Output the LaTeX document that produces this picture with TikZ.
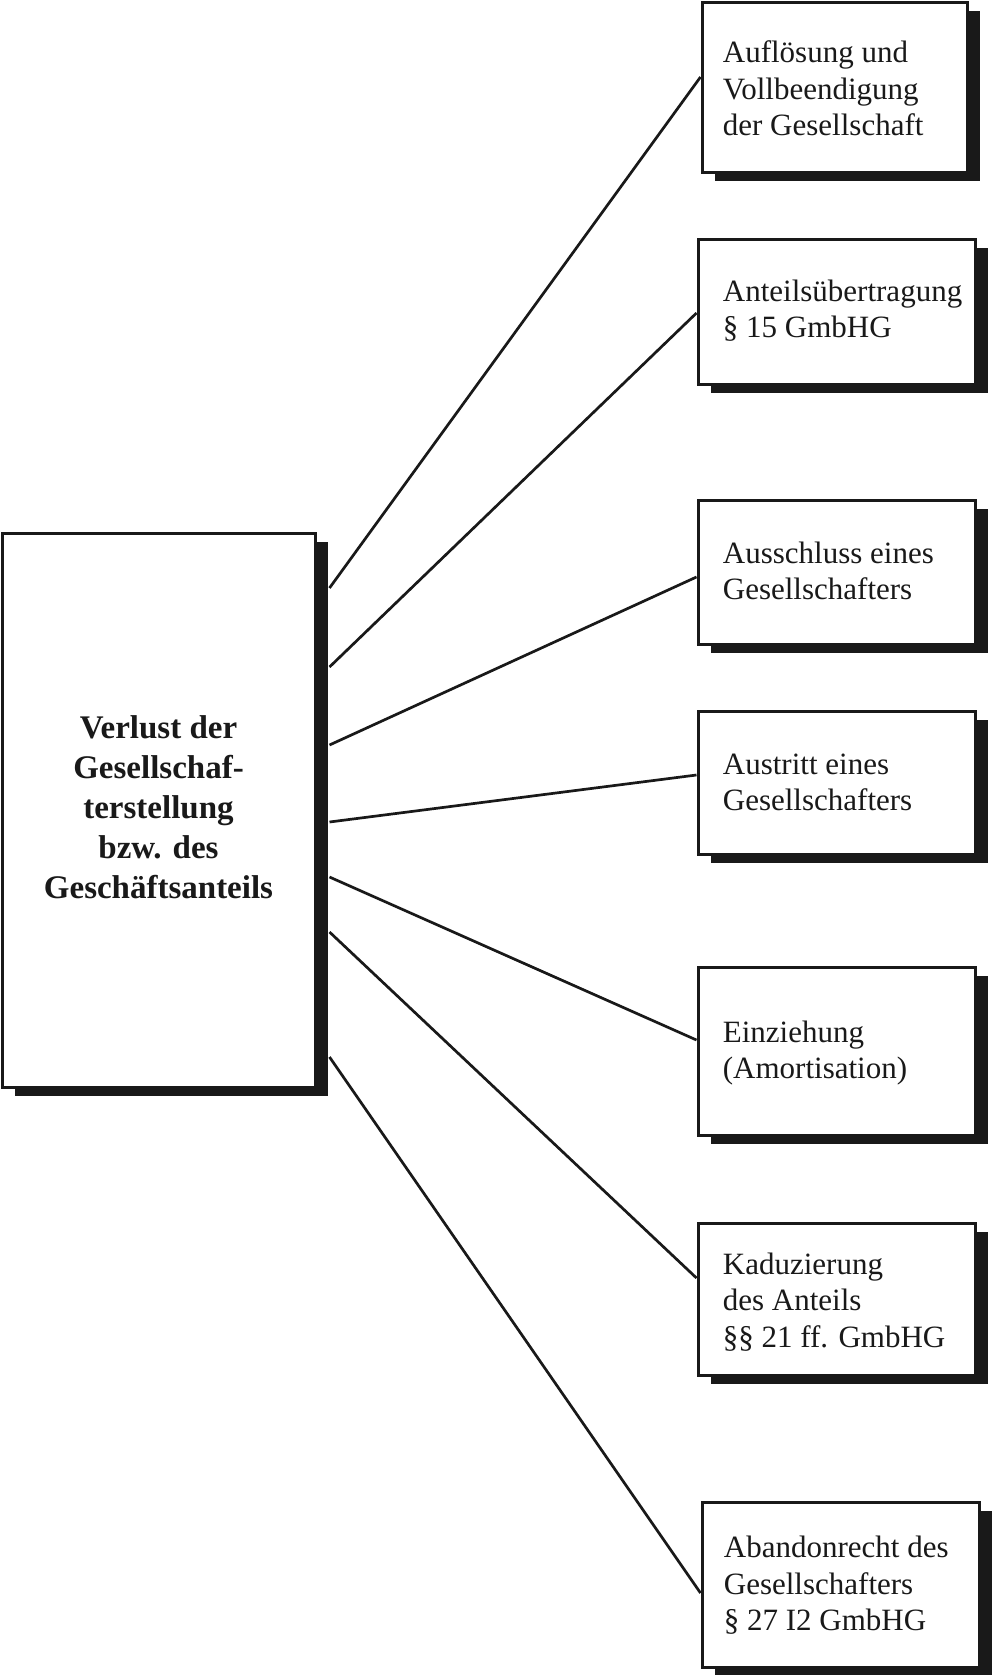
\documentclass[tikz,border=0pt]{standalone}
\usepackage{fontspec}
\setmainfont{Liberation Serif}
\usetikzlibrary{shadows,calc}
\hyphenpenalty=10000
\exhyphenpenalty=10000
\begin{document}
\begin{tikzpicture}[x=0.5pt,y=-0.5pt,
  shd/.style={drop shadow={shadow xshift=6.5pt, shadow yshift=-4.25pt, fill=black!90, opacity=1}},
  rbox/.style={draw=black!90, line width=1.5pt, fill=white, shd, inner sep=0pt, minimum width=138.5pt},
  rtext/.style={anchor=west, inner sep=0pt, align=left, text=black!90, font=\fontsize{15.5}{18.3}\selectfont},
  mbox/.style={draw=black!90, line width=1.5pt, fill=white, shd, inner sep=0pt,
    align=center, text=black!90, font=\fontsize{16.5}{20}\selectfont\bfseries},
  conn/.style={draw=black!90, line width=1.35pt}]
\useasboundingbox (0,0) rectangle (992,1675);

\node[mbox, minimum width=156.5pt, minimum height=277pt, text depth=2.5pt] (main) at (158.5,810)
  {Verlust der\\Gesellschaf-\\terstellung\\bzw. des\\Gesch\"aftsanteils};

\node[rbox, minimum width=132.5pt, minimum height=84.5pt] (b1) at (834.5,87.5) {};
\node[rbox, minimum height=72.5pt] (b2) at (836.5,311.5) {};
\node[rbox, minimum height=72pt] (b3) at (836.5,572) {};
\node[rbox, minimum height=71.5pt] (b4) at (836.5,782.5) {};
\node[rbox, minimum height=84pt] (b5) at (836.5,1051) {};
\node[rbox, minimum height=76pt] (b6) at (836.5,1299) {};
\node[rbox, minimum height=82.5pt] (b7) at (840.5,1584.5) {};

\node[rtext] (t1) at ($(b1.west)+(22,1)$) {Aufl\"osung und\\Vollbeendigung\\der Gesellschaft};
\node[rtext] (t2) at ($(b2.west)+(26,-1)$) {Anteils\"ubertragung\\\S\ 15 GmbHG};
\node[rtext] (t3) at ($(b3.west)+(26,-1)$) {Ausschluss eines\\Gesellschafters};
\node[rtext] (t4) at ($(b4.west)+(26,0)$) {Austritt eines\\Gesellschafters};
\node[rtext] (t5) at ($(b5.west)+(26,2)$) {Einziehung\\(Amortisation)};
\node[rtext] (t6) at ($(b6.west)+(26,3)$) {Kaduzierung\\des Anteils\\\S\S\ 21 ff. GmbHG};
\node[rtext] (t7) at ($(b7.west)+(23,1)$) {Abandonrecht des\\Gesellschafters\\\S\ 27 I2 GmbHG};

\coordinate (s1) at ($(main.east |- 0,588)+(13,0)$);
\coordinate (s2) at ($(main.east |- 0,667)+(13,0)$);
\coordinate (s3) at ($(main.east |- 0,745)+(13,0)$);
\coordinate (s4) at ($(main.east |- 0,822)+(13,0)$);
\coordinate (s5) at ($(main.east |- 0,877)+(13,0)$);
\coordinate (s6) at ($(main.east |- 0,932)+(13,0)$);
\coordinate (s7) at ($(main.east |- 0,1057)+(13,0)$);

\draw[conn] (s1) -- (b1.west |- 0,77);
\draw[conn] (s2) -- (b2.west |- 0,313);
\draw[conn] (s3) -- (b3.west |- 0,577);
\draw[conn] (s4) -- (b4.west |- 0,775);
\draw[conn] (s5) -- (b5.west |- 0,1040);
\draw[conn] (s6) -- (b6.west |- 0,1278);
\draw[conn] (s7) -- (b7.west |- 0,1593);
\end{tikzpicture}
\end{document}
